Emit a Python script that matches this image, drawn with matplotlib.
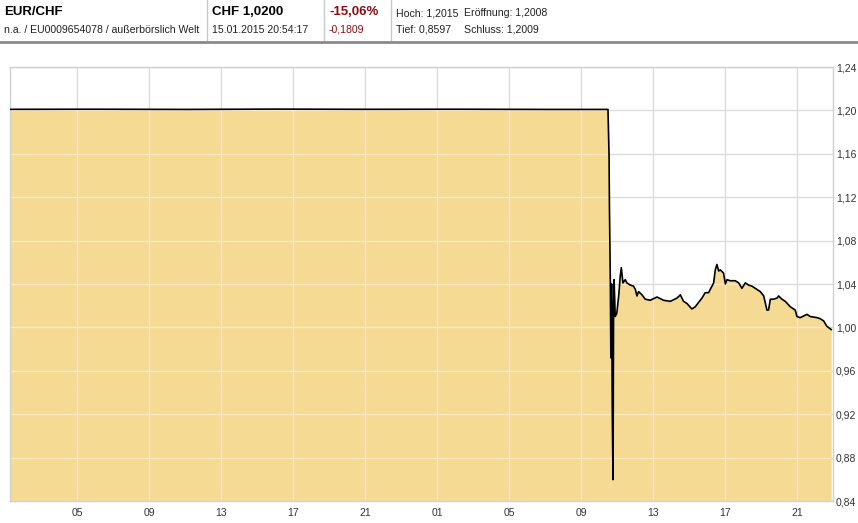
"""
EUR/CHF intraday chart, 14./15.01.2015 (SNB floor removal).
x = hours since 14.01. 00:00
"""
import matplotlib.pyplot as plt

plt.rcParams['font.family'] = ['Liberation Sans', 'DejaVu Sans']

# flat part at the 1,20 floor
flat_hours = [1.3, 6.0, 11.0, 16.0, 21.0, 26.0, 31.0, 34.50]
flat_prices = [1.2010, 1.2011, 1.2009, 1.2012, 1.2010, 1.2011, 1.2009, 1.2009]

# crash and the hours after it
crash_hours = [34.52, 34.56, 34.58, 34.63, 34.66, 34.70, 34.74, 34.78, 34.81,
               34.84, 34.90, 34.99, 35.10, 35.18, 35.24, 35.33, 35.46, 35.55,
               35.74, 35.92, 36.02, 36.11, 36.20, 36.39, 36.57, 36.85, 37.22,
               37.59, 37.96, 38.33, 38.52, 38.70, 38.89, 39.16, 39.35, 39.53,
               39.72, 39.90, 40.09, 40.18, 40.37, 40.46, 40.55, 40.65, 40.74,
               40.92, 41.02, 41.11, 41.29, 41.57, 41.76, 41.94, 42.13, 42.31,
               42.50, 42.68, 42.96, 43.15, 43.33, 43.42, 43.52, 43.70, 43.89,
               43.98, 44.16, 44.35, 44.63, 44.90, 45.00, 45.18, 45.55, 45.74,
               46.11, 46.29, 46.48, 46.66, 46.90]
crash_prices = [1.186, 1.158, 1.112, 1.042, 0.972, 1.040, 0.918, 0.8597, 1.019,
                1.044, 1.010, 1.013, 1.030, 1.047, 1.055, 1.041, 1.044, 1.041,
                1.039, 1.038, 1.035, 1.029, 1.033, 1.030, 1.026, 1.025, 1.028,
                1.025, 1.024, 1.027, 1.030, 1.024, 1.022, 1.017, 1.019, 1.023,
                1.027, 1.032, 1.032, 1.035, 1.041, 1.053, 1.058, 1.052, 1.053,
                1.050, 1.040, 1.044, 1.043, 1.043, 1.041, 1.036, 1.041, 1.039,
                1.038, 1.036, 1.033, 1.029, 1.016, 1.016, 1.026, 1.026, 1.027,
                1.029, 1.026, 1.024, 1.019, 1.016, 1.010, 1.009, 1.012, 1.010,
                1.009, 1.008, 1.006, 1.001, 0.998]

hours = flat_hours + crash_hours
prices = flat_prices + crash_prices

tick_hours = [5, 9, 13, 17, 21, 25, 29, 33, 37, 41, 45]
tick_labels = ['05', '09', '13', '17', '21', '01', '05', '09', '13', '17', '21']
y_ticks = [0.84, 0.88, 0.92, 0.96, 1.00, 1.04, 1.08, 1.12, 1.16, 1.20, 1.24]
y_labels = ['0,84', '0,88', '0,92', '0,96', '1,00', '1,04', '1,08', '1,12', '1,16', '1,20', '1,24']

fig = plt.figure(figsize=(8.58, 5.23), dpi=100)
ax = fig.add_axes([10 / 858, 1 - 501 / 523, 823 / 858, 434 / 523])

ax.set_xlim(1.28, 47.0)
ax.set_ylim(0.84, 1.24)

ax.grid(True, color='#dcdcdc', linewidth=1, zorder=0)
ax.set_axisbelow(True)

fill = ax.fill_between(hours, prices, 0.84, color='#f5da94', linewidth=0, zorder=1)
ax.plot(hours, prices, color='black', linewidth=1.2, zorder=3)

# lighter grid lines inside the filled area
clip = fill.get_paths()[0]
for h in tick_hours:
    ln = ax.axvline(h, color='#fae9c4', linewidth=1, zorder=2)
    ln.set_clip_path(clip, fill.get_transform())
for y in y_ticks:
    ln = ax.axhline(y, color='#fae9c4', linewidth=1, zorder=2)
    ln.set_clip_path(clip, fill.get_transform())

ax.set_xticks(tick_hours)
ax.set_xticklabels(tick_labels)
ax.set_yticks(y_ticks)
ax.set_yticklabels(y_labels)
ax.yaxis.tick_right()
ax.tick_params(axis='both', length=0, labelsize=7.5, colors='#333333')
ax.tick_params(axis='y', pad=2)
ax.tick_params(axis='x', pad=5)

for s in ax.spines.values():
    s.set_color('#d0d0d0')
    s.set_linewidth(1)

# header
def px(x, y):
    return x / 858, 1 - y / 523

fig.text(*px(4, 12), 'EUR/CHF', fontsize=9.5, fontweight='bold', va='center', color='black')
fig.text(*px(4, 30), 'n.a. / EU0009654078 / außerbörslich Welt', fontsize=7.6, va='center', color='#222222')
fig.text(*px(212, 12), 'CHF 1,0200', fontsize=9.5, fontweight='bold', va='center', color='black')
fig.text(*px(212, 30), '15.01.2015 20:54:17', fontsize=7.6, va='center', color='#222222')
fig.text(*px(329, 12), '-15,06%', fontsize=9.5, fontweight='bold', va='center', color='#8b0e0e')
fig.text(*px(329, 30), '-0,1809', fontsize=7.6, va='center', color='#8b0e0e')
fig.text(*px(396, 13), 'Hoch: 1,2015', fontsize=7.6, va='center', color='#222222')
fig.text(*px(464, 13), 'Eröffnung: 1,2008', fontsize=7.6, va='center', color='#222222')
fig.text(*px(396, 30), 'Tief: 0,8597', fontsize=7.6, va='center', color='#222222')
fig.text(*px(464, 30), 'Schluss: 1,2009', fontsize=7.6, va='center', color='#222222')

for xs in [207, 324, 391]:
    fig.add_artist(plt.Line2D([xs / 858, xs / 858], [1 - 40 / 523, 1.0],
                              color='#c8c8c8', linewidth=1))
fig.add_artist(plt.Line2D([0, 1], [1 - 41.5 / 523, 1 - 41.5 / 523],
                          color='#8a8a8a', linewidth=2))

fig.savefig('out.png', dpi=100)
